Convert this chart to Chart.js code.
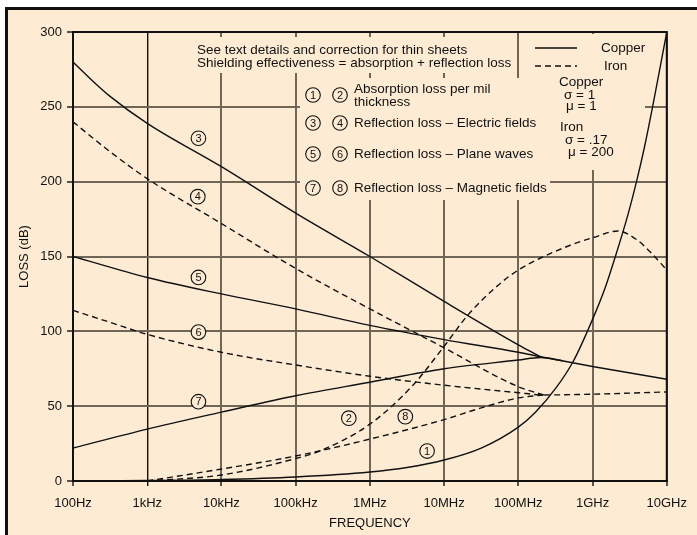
<!DOCTYPE html>
<html>
<head>
<meta charset="utf-8">
<script src="https://cdn.jsdelivr.net/npm/chart.js@4.4.0/dist/chart.umd.min.js"></script>
<style>
  html, body { margin: 0; padding: 0; background: #fff; overflow: hidden; }
  #frame { position: absolute; left: 5px; top: 7px; width: 720px; height: 560px; background: #fdecd3; border-left: 3px solid #111; border-top: 3px solid #111; }
  #chart { position: absolute; left: 0; top: 0; }
</style>
</head>
<body>
<div id="frame"></div>
<canvas id="chart" width="697" height="535"></canvas>
<script>
// axis ticks
const tickFreqs = [1e2, 1e3, 1e4, 1e5, 1e6, 1e7, 1e8, 1e9, 1e10];
const tickLabels = ['100Hz', '1kHz', '10kHz', '100kHz', '1MHz', '10MHz', '100MHz', '1GHz', '10GHz'];

// (1) absorption loss per mil - copper / (2) iron
const freqAbsCu = [1e2, 1e3, 1e4, 1e5, 1e6, 3.16e6, 1e7, 3.16e7, 1e8, 1.7e8, 3.2e8, 5.5e8, 1e9, 1.5e9, 2e9, 3e9, 4e9, 5e9, 6.5e9, 1e10];
const absCopper = [0, 0.3, 1, 2.7, 6, 9, 14, 22, 36, 46, 62, 80, 108, 130, 149, 178, 202, 223, 251, 300];
const freqAbsFe = [1e3, 1e4, 1e5, 2.1e5, 1e6, 3.8e6, 1e7, 2.1e7, 5.4e7, 1e8, 2e8, 5e8, 1e9, 2.2e9, 4e9, 6e9, 1e10];
const absIron = [0, 4, 15, 20, 38, 64, 90, 111, 131, 141, 149, 157.5, 162.5, 167, 161, 153, 141];

// (3) reflection loss electric fields - copper / (4) iron
const freqElecCu = [1e2, 1.78e2, 3.16e2, 1e3, 1e4, 1e5, 1e6, 1e7, 1e8, 2e8];
const elecCopper = [280, 268, 257, 239, 210, 179, 150, 120, 91, 83];
const freqElecFe = [1e2, 3.16e2, 1e3, 1e4, 1e5, 1e6, 1e7, 1e8, 2.2e8];
const elecIron = [240, 220, 202, 172, 142, 115, 89, 63, 57.5];

// (5) reflection loss plane waves - copper / (6) iron
const freqPlaneCu = [1e2, 1e3, 1e4, 1e5, 1e6, 1e7, 1e8, 2e8, 1e9, 1e10];
const planeCopper = [150, 136, 125, 115, 104, 94.5, 86, 83, 76.5, 68];
const freqPlaneFe = [1e2, 3.16e2, 1e3, 1e4, 1e5, 1e6, 1e7, 1e8, 2.2e8, 1e9, 1e10];
const planeIron = [114, 106, 98, 86, 77.5, 70, 64, 59, 57.5, 58, 59.5];

// (7) reflection loss magnetic fields - copper / (8) iron
const freqMagCu = [1e2, 1e3, 1e4, 1e5, 1e6, 1e7, 1e8, 2e8, 4e8];
const magCopper = [22, 34.7, 46, 57, 66, 75, 80.8, 82.5, 80.3];
const freqMagFe = [1e3, 1e4, 1e5, 1e6, 1e7, 3e7, 1e8, 2.2e8];
const magIron = [0, 8, 16.7, 28, 41, 48.5, 55.5, 57.5];

// circled curve numbers, placed in data space [number, freq, dB]
const curveTags = [
  [3, 4.9e3, 229], [4, 4.8e3, 190], [5, 4.9e3, 136], [6, 4.9e3, 99.5], [7, 4.9e3, 53],
  [2, 5.2e5, 42], [8, 3e6, 43], [1, 5.9e6, 20]
];

const BG = '#fdecd3';
const INK = '#111';
const FONT = '"Liberation Sans", Arial, sans-serif';

function pts(xs, ys) { return xs.map((x, i) => ({ x: x, y: ys[i] })); }
function curve(xs, ys, dashed) {
  return {
    data: pts(xs, ys),
    borderColor: INK,
    borderWidth: 1.4,
    borderDash: dashed ? [6, 4] : [],
    pointRadius: 0,
    showLine: true,
    fill: false,
    cubicInterpolationMode: 'monotone'
  };
}

function circled(ctx, x, y, n) {
  ctx.beginPath();
  ctx.arc(x, y, 7.3, 0, Math.PI * 2);
  ctx.fillStyle = BG;
  ctx.fill();
  ctx.lineWidth = 1.1;
  ctx.strokeStyle = INK;
  ctx.stroke();
  ctx.fillStyle = INK;
  ctx.font = '11px ' + FONT;
  ctx.textAlign = 'center';
  ctx.textBaseline = 'middle';
  ctx.fillText(String(n), x, y + 0.5);
}

// areas where the grid is cut away behind the notes
const masks = [[190, 37, 326, 36], [300, 78, 250, 122], [525, 34, 142, 40], [550, 72, 95, 98]];

const notes = {
  id: 'notes',
  beforeDatasetsDraw(chart) {
    const ctx = chart.ctx;
    ctx.save();
    ctx.fillStyle = BG;
    masks.forEach(m => ctx.fillRect(m[0], m[1], m[2], m[3]));
    ctx.restore();
  },
  afterDatasetsDraw(chart) {
    const ctx = chart.ctx;
    const a = chart.chartArea;
    const xs = chart.scales.x, ys = chart.scales.y;
    ctx.save();
    // plot frame top / right
    ctx.strokeStyle = INK;
    ctx.lineWidth = 2;
    ctx.beginPath();
    ctx.moveTo(a.left, a.top);
    ctx.lineTo(a.right, a.top);
    ctx.lineTo(a.right, a.bottom);
    ctx.stroke();

    ctx.fillStyle = INK;
    ctx.font = '13.5px ' + FONT;
    ctx.textAlign = 'left';
    ctx.textBaseline = 'middle';
    ctx.fillText('See text details and correction for thin sheets', 197, 50);
    ctx.fillText('Shielding effectiveness = absorption + reflection loss', 197, 63);

    // line style legend
    ctx.lineWidth = 1.4;
    ctx.beginPath(); ctx.moveTo(535, 48); ctx.lineTo(577, 48); ctx.stroke();
    ctx.setLineDash([6, 4]);
    ctx.beginPath(); ctx.moveTo(535, 66); ctx.lineTo(577, 66); ctx.stroke();
    ctx.setLineDash([]);
    ctx.fillText('Copper', 601, 48);
    ctx.fillText('Iron', 604, 66);

    ctx.fillText('Copper', 559, 82);
    ctx.fillText('σ = 1', 564, 95);
    ctx.fillText('μ = 1', 566, 106);
    ctx.fillText('Iron', 560, 127);
    ctx.fillText('σ = .17', 565, 140);
    ctx.fillText('μ = 200', 568, 152);

    ctx.fillText('Absorption loss per mil', 354, 89);
    ctx.fillText('thickness', 354, 102);
    ctx.fillText('Reflection loss – Electric fields', 354, 123);
    ctx.fillText('Reflection loss – Plane waves', 354, 154);
    ctx.fillText('Reflection loss – Magnetic fields', 354, 188);

    [[1, 2, 95], [3, 4, 123], [5, 6, 154], [7, 8, 188]].forEach(r => {
      circled(ctx, 313, r[2], r[0]);
      circled(ctx, 340, r[2], r[1]);
    });

    curveTags.forEach(t => circled(ctx, xs.getPixelForValue(t[1]), ys.getPixelForValue(t[2]), t[0]));
    ctx.restore();
  }
};

Chart.defaults.font.family = FONT;
Chart.defaults.font.size = 13;
Chart.defaults.color = INK;

new Chart(document.getElementById('chart').getContext('2d'), {
  type: 'scatter',
  data: {
    datasets: [
      curve(freqAbsCu, absCopper, false),
      curve(freqAbsFe, absIron, true),
      curve(freqElecCu, elecCopper, false),
      curve(freqElecFe, elecIron, true),
      curve(freqPlaneCu, planeCopper, false),
      curve(freqPlaneFe, planeIron, true),
      curve(freqMagCu, magCopper, false),
      curve(freqMagFe, magIron, true)
    ]
  },
  options: {
    responsive: false,
    animation: false,
    layout: { padding: { left: 0, right: 28, top: 32, bottom: 0 } },
    plugins: { legend: { display: false }, tooltip: { enabled: false } },
    scales: {
      x: {
        type: 'logarithmic',
        min: 1e2,
        max: 1e10,
        afterBuildTicks: s => { s.ticks = tickFreqs.map(v => ({ value: v })); },
        afterFit: s => { s.height = 54; },
        ticks: {
          autoSkip: false,
          maxRotation: 0,
          padding: 10,
          callback: (v, i) => tickLabels[i]
        },
        grid: {
          color: c => (c.index === 1 ? '#111' : '#6f6658'),
          lineWidth: c => (c.index === 1 ? 1.4 : 2),
          tickColor: INK,
          tickLength: 5,
          tickWidth: 1.4
        },
        border: { color: INK, width: 2 },
        title: { display: true, text: 'FREQUENCY', padding: { top: 0, bottom: 4 } }
      },
      y: {
        min: 0,
        max: 300,
        afterFit: s => { s.width = 73; },
        ticks: { stepSize: 50, padding: 5 },
        grid: { color: '#6f6658', lineWidth: 2, tickColor: INK, tickLength: 6, tickWidth: 1.4 },
        border: { color: INK, width: 2 },
        title: { display: true, text: 'LOSS (dB)', padding: { top: 17, bottom: 0 } }
      }
    }
  },
  plugins: [notes]
});
</script>
</body>
</html>
